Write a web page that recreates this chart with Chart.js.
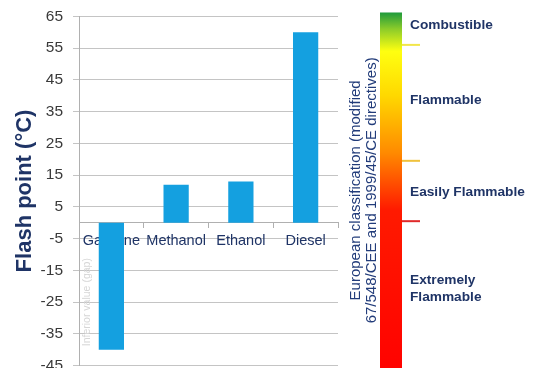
<!DOCTYPE html>
<html lang="en">
<head>
    <meta charset="UTF-8">
    <title>Flash point</title>
    <script src="https://cdn.jsdelivr.net/npm/chart.js"></script>
    <style>
        html, body { margin: 0; padding: 0; background: #ffffff; overflow: hidden; }
        #wrap { width: 535px; height: 388px; margin-top: -3px; position: relative; }
    </style>
</head>
<body>
    <div id="wrap"><canvas id="grafico"></canvas></div>

<script>
    // dados do gráfico
    const combustiveis = ['Gasoline', 'Methanol', 'Ethanol', 'Diesel'];
    const pontoFulgor = [-40, 12, 13, 60];

    // classificação europeia (marcas, em °C)
    const limites = [56, 19.5, 0.5];
    const coresLimites = ['#f2e64a', '#f0c23c', '#e02a2a'];
    const classes = ['Combustible', 'Flammable', 'Easily Flammable', 'Extremely|Flammable'];
    const posClasses = [62.2, 38.5, 9.7, -18.2];

    const azulEscuro = '#1f3466';

    // desenha a barra de classificação à direita do gráfico
    const classificacao = {
        id: 'classificacao',
        afterDraw(chart) {
            const ctx = chart.ctx;
            const y = chart.scales.y;
            const area = chart.chartArea;
            const x0 = area.right + 42;
            const larg = 22;
            const topo = y.getPixelForValue(66.2);
            const base = chart.height;

            ctx.save();
            const grad = ctx.createLinearGradient(0, topo, 0, base);
            const stop = v => Math.min(1, Math.max(0, (y.getPixelForValue(v) - topo) / (base - topo)));
            grad.addColorStop(0, '#1f9a3c');
            grad.addColorStop(stop(61), '#8ccc2a');
            grad.addColorStop(stop(54), '#ffff10');
            grad.addColorStop(stop(40), '#ffd800');
            grad.addColorStop(stop(22), '#ff8a00');
            grad.addColorStop(stop(4), '#ff1a00');
            grad.addColorStop(1, '#ff0000');
            ctx.fillStyle = grad;
            ctx.fillRect(x0, topo, larg, base - topo);

            // marcas dos limites
            limites.forEach((v, i) => {
                const py = y.getPixelForValue(v);
                ctx.strokeStyle = coresLimites[i];
                ctx.lineWidth = 2;
                ctx.beginPath();
                ctx.moveTo(x0 + larg, py);
                ctx.lineTo(x0 + larg + 18, py);
                ctx.stroke();
            });

            // nomes das classes
            ctx.fillStyle = azulEscuro;
            ctx.font = 'bold 13.7px Arial, "Liberation Sans", sans-serif';
            ctx.textAlign = 'left';
            ctx.textBaseline = 'middle';
            classes.forEach((txt, i) => {
                const py = y.getPixelForValue(posClasses[i]);
                const linhas = txt.split('|');
                linhas.forEach((l, j) => ctx.fillText(l, x0 + larg + 8, py + j * 16.5));
            });

            // texto vertical
            ctx.translate(x0 - 16, y.getPixelForValue(10.2));
            ctx.rotate(-Math.PI / 2);
            ctx.textAlign = 'center';
            ctx.font = '15px Arial, "Liberation Sans", sans-serif';
            ctx.fillStyle = '#223c7a';
            ctx.fillText('European classification (modified', 0, -8);
            ctx.fillText('67/548/CEE and 1999/45/CE directives)', 0, 8);
            ctx.restore();
        },
        afterDatasetsDraw(chart) {
            // texto claro ao lado da barra da gasolina
            const ctx = chart.ctx;
            const y = chart.scales.y;
            const x = chart.scales.x;
            ctx.save();
            ctx.translate(x.getPixelForValue(0) - 24, y.getPixelForValue(-25));
            ctx.rotate(-Math.PI / 2);
            ctx.textAlign = 'center';
            ctx.textBaseline = 'middle';
            ctx.font = '10.5px Arial, sans-serif';
            ctx.fillStyle = '#d6d6d6';
            ctx.fillText('Inferior value (gap)', 0, 0);
            ctx.restore();
        }
    };

    const config = {
        type: 'bar',
        data: {
            labels: combustiveis,
            datasets: [{
                data: pontoFulgor,
                backgroundColor: '#14a0e0',
                categoryPercentage: 1,
                barPercentage: 0.39
            }]
        },
        options: {
            responsive: true,
            maintainAspectRatio: false,
            animation: false,
            layout: { padding: { top: 13, right: 197, bottom: 0, left: 12 } },
            plugins: {
                legend: { display: false },
                tooltip: { enabled: false }
            },
            scales: {
                x: {
                    position: { y: 0 },
                    z: 1,
                    grid: { display: true, drawOnChartArea: false, tickLength: 5, color: '#b0b0b0' },
                    border: { color: '#b0b0b0' },
                    ticks: {
                        color: azulEscuro,
                        padding: 5,
                        maxRotation: 0,
                        minRotation: 0,
                        autoSkip: false,
                        font: { family: 'Arial, "Liberation Sans", sans-serif', size: 14.5 }
                    }
                },
                y: {
                    min: -45,
                    max: 65,
                    afterFit(scale) { scale.width = 67; },
                    grid: { color: '#c4c4c4', tickLength: 6 },
                    border: { color: '#b0b0b0' },
                    ticks: {
                        stepSize: 10,
                        color: '#3a3a3a',
                        padding: 10,
                        font: { family: 'Arial, "Liberation Sans", sans-serif', size: 15.5 }
                    },
                    title: {
                        display: true,
                        text: 'Flash point (°C)',
                        color: azulEscuro,
                        padding: { top: 0, bottom: 2 },
                        font: { family: 'Arial, "Liberation Sans", sans-serif', size: 22, weight: 'bold' }
                    }
                }
            }
        },
        plugins: [classificacao]
    };

    let meuGrafico = new Chart(document.getElementById('grafico'), config);
</script>
</body>
</html>
